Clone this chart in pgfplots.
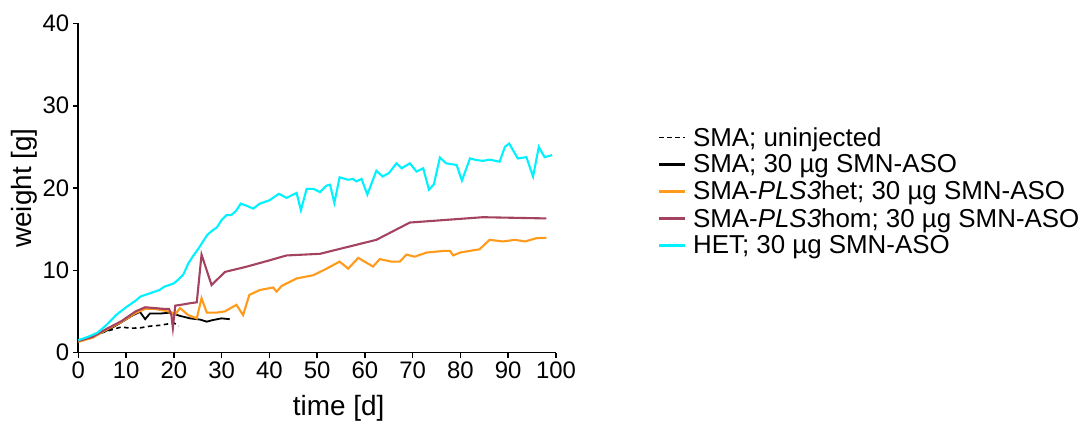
\documentclass[border=0pt]{standalone}
\usepackage{pgfplots}
\pgfplotsset{compat=1.18}
\usepackage{fontspec}
\setmainfont{Liberation Sans}
\definecolor{hetc}{HTML}{00F2FF}
\definecolor{orgc}{HTML}{FF9A1A}
\definecolor{homc}{HTML}{A3435F}
\begin{document}
\begin{tikzpicture}
\useasboundingbox (-78.3bp,-70.5bp) rectangle (1010.7bp,352.5bp);
\begin{axis}[
  at={(0,0)}, anchor=south west,
  scale only axis, width=477.7bp, height=329bp,
  xmin=0, xmax=100, ymin=0, ymax=40,
  axis lines=left, axis line style={-, line width=1.8bp},
  xtick={0,10,...,100}, ytick={0,10,...,40},
  tick align=outside, major tick length=5.5bp,
  tick style={line width=1.5bp, black},
  ticklabel style={font=\fontsize{24}{28}\selectfont},
  /pgf/number format/assume math mode=true,
  xlabel={time [d]}, ylabel={weight [g]},
  label style={font=\fontsize{28}{32}\selectfont},
  xlabel style={at={(axis description cs:0.545,0)}, anchor=north, yshift=-39bp},
  ylabel style={at={(axis description cs:0,0.5)}, anchor=south, yshift=37bp},
  clip=false,
  legend cell align=left,
  legend style={draw=none, fill=none, at={(rel axis cs:1.213,0.49)}, anchor=west,
    font=\fontsize{26}{29}\selectfont, row sep=4bp, inner sep=0pt,
    nodes={inner sep=1.5bp},
    /tikz/every odd column/.append style={column sep=5bp}},
  legend image code/.code={\draw[#1] (0bp,0bp) -- (26bp,0bp);},
  every legend image post/.style={line width=2.6bp},
]
% SMA uninjected
\addplot[black, line width=1.6bp, dash pattern=on 4.5bp off 3.5bp, legend image post style={line width=1.6bp}] coordinates {
(0,1.4) (3,2.0) (6,2.6) (9,3.1) (11,2.95) (13,3.0) (15,3.2) (17,3.3) (19,3.5) (20,3.6) (21,3.2)
};
\addlegendentry{SMA; uninjected}
% SMA ASO
\addplot[black, line width=1.8bp] coordinates {
(0,1.4) (2,1.7) (3.5,2.1) (6.3,2.75) (9.1,3.7) (11.2,4.45) (12.9,4.95) (14,4.05) (15,4.75) (17.4,4.75) (19.2,4.85) (21.3,4.45) (23.4,4.15) (25.5,4.0) (26.9,3.75) (28.2,3.95) (30,4.15) (31.7,4.05)
};
\addlegendentry{SMA; 30 µg SMN-ASO}
% PLS3het
\addplot[orgc, line width=2.1bp] coordinates {
(0,1.3) (3,1.8) (6,2.8) (9,3.7) (12,4.8) (14,5.3) (16,5.3) (18,5.1) (19.5,4.9) (20.2,4.55) (21.3,5.4) (23,4.55) (24.8,4.15) (25.8,6.6) (26.9,4.85) (29,4.85) (30.7,5.0) (33.1,5.8) (34.5,4.55) (35.8,7.0) (38,7.6) (40.8,7.9) (41.5,7.4) (42.6,8.1) (45.7,9.0) (49.2,9.4) (52,10.2) (54.7,11.05) (56.5,10.2) (58.6,11.5) (61.7,10.45) (63.1,11.35) (65.6,11.05) (67.3,11.05) (68.7,11.9) (70.4,11.65) (72.9,12.15) (76.4,12.35) (77.8,12.35) (78.5,11.8) (79.9,12.15) (84,12.55) (86.1,13.7) (88.9,13.5) (91.4,13.7) (93.5,13.5) (95.9,13.9) (98,13.95)
};
\addlegendentry{SMA-\textit{PLS3}het; 30 µg SMN-ASO}
% PLS3hom
\addplot[homc, line width=2.1bp] coordinates {
(0,1.4) (3,1.9) (6,2.9) (9,3.8) (12,5.0) (14,5.5) (16,5.4) (18,5.3) (19,5.3) (19.5,4.5) (19.8,3.0) (20.3,5.7) (21.5,5.8) (23.5,6.0) (24.8,6.1) (25.8,11.9) (27.9,8.2) (30.7,9.8) (35,10.4) (40,11.2) (43.6,11.8) (50.6,12.0) (62.4,13.7) (69.4,15.8) (84.7,16.45) (98,16.3)
};
\addlegendentry{SMA-\textit{PLS3}hom; 30 µg SMN-ASO}
% HET
\addplot[hetc, line width=2.1bp] coordinates {
(0,1.5) (2,1.9) (4,2.4) (6,3.4) (8,4.6) (10,5.5) (12,6.3) (13,6.8) (15,7.2) (17,7.6) (18,8.0) (20,8.4) (21,8.9) (22,9.5) (23,10.8) (24,11.7) (25,12.5) (26,13.4) (27,14.3) (28,14.8) (29,15.2) (30,16.1) (31,16.7) (32,16.7) (33,17.2) (34,18.1) (35,17.9) (36.6,17.5) (38,18.1) (40,18.5) (42,19.3) (43.6,18.8) (45.7,19.4) (46.6,17.3) (47.8,19.9) (49.2,19.9) (50.6,19.5) (52,20.3) (52.7,20.4) (53.6,18.2) (54.7,21.3) (56.5,21.0) (57.5,21.1) (58.2,20.8) (59.3,21.1) (60.5,19.2) (62.4,22.1) (63.7,21.4) (65,21.8) (66.6,23.0) (67.7,22.4) (69.4,23.0) (70.8,22.0) (72.2,22.4) (73.4,19.8) (74.4,20.4) (75.7,23.7) (77,23.0) (79.2,22.8) (80.3,20.9) (82,23.6) (83.3,23.4) (84.7,23.3) (86.1,23.45) (88.2,23.2) (89.3,25.0) (90.2,25.4) (92,23.6) (93.8,23.75) (95.2,21.4) (96.4,25.0) (97.6,23.75) (99.2,24.0)
};
\addlegendentry{HET; 30 µg SMN-ASO}
\end{axis}
\end{tikzpicture}
\end{document}
